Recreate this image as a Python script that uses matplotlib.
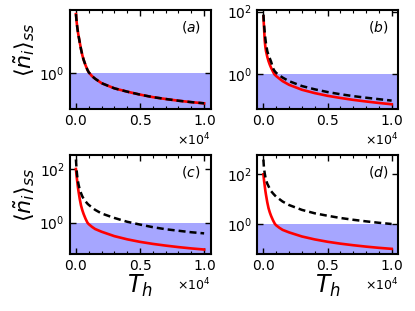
import matplotlib

matplotlib.use("Agg")

import matplotlib.pyplot as plt
from matplotlib.ticker import FixedLocator, MultipleLocator, NullLocator

# Hot-bath temperature samples
T_A = [0, 25, 50, 100, 150, 200, 300, 400, 500, 600, 750, 900, 1000, 1250, 1500,
       2000, 3000, 4000, 5000, 6000, 7000, 8000, 9000, 10000]
RED_A = [70, 55, 42, 28, 20, 15, 9, 5.5, 3.6, 2.6, 1.75, 1.25, 1.05, 0.8, 0.66,
         0.48, 0.33, 0.26, 0.21, 0.175, 0.153, 0.135, 0.122, 0.112]

T_B = [0, 25, 50, 100, 150, 200, 300, 400, 500, 600, 750, 850, 1000, 1250, 1500,
       2000, 3000, 4000, 5000, 6000, 7000, 8000, 9000, 10000]
RED_B = [70, 45, 30, 12, 7.5, 5.5, 3.6, 2.6, 2.0, 1.6, 1.2, 1.0, 0.87, 0.72, 0.6,
         0.46, 0.32, 0.25, 0.205, 0.175, 0.152, 0.135, 0.121, 0.11]
DASH_B = [80, 55, 38, 22, 14, 9.5, 5.5, 4.0, 3.2, 2.5, 1.55, 1.3, 1.1, 0.92, 0.78,
          0.6, 0.42, 0.33, 0.27, 0.23, 0.2, 0.178, 0.16, 0.144]

T_CD = [0, 25, 50, 100, 150, 200, 300, 400, 500, 600, 750, 900, 1000, 1250, 1500,
        2000, 3000, 4000, 5000, 6000, 7000, 8000, 9000, 10000]
RED_CD = [100, 75, 55, 35, 22, 15, 7.5, 4.3, 2.9, 2.1, 1.4, 1.0, 0.88, 0.7, 0.58,
          0.46, 0.315, 0.24, 0.193, 0.162, 0.14, 0.123, 0.11, 0.1]
DASH_C = [225, 150, 95, 55, 37, 27, 17, 12.5, 9.5, 7.8, 6.2, 5.1, 4.6, 3.7, 3.0,
          2.2, 1.5, 1.08, 0.85, 0.68, 0.57, 0.5, 0.44, 0.40]
DASH_D = [390, 240, 170, 110, 80, 60, 42, 33, 26, 21, 17, 14, 12.5, 10, 8,
          5.8, 3.7, 2.7, 2.15, 1.75, 1.48, 1.28, 1.12, 1.0]

PANELS = [
    ("(a)", T_A, RED_A, T_A, RED_A, (0.0743, 94.2)),
    ("(b)", T_B, RED_B, T_B, DASH_B, (0.0776, 112)),
    ("(c)", T_CD, RED_CD, T_CD, DASH_C, (0.0682, 331)),
    ("(d)", T_CD, RED_CD, T_CD, DASH_D, (0.0621, 598)),
]

RECTS = [
    [0.1675, 0.6495, 0.3398, 0.3183],
    [0.6193, 0.6495, 0.3398, 0.3183],
    [0.1675, 0.1833, 0.3398, 0.3183],
    [0.6193, 0.1833, 0.3398, 0.3183],
]

fig = plt.figure(figsize=(4.15, 3.11), dpi=100)

for i, ((tag, tr, red, td, dash, ylim), rect) in enumerate(zip(PANELS, RECTS)):
    ax = fig.add_axes(rect)
    ax.set_yscale("log")
    ax.axhspan(ylim[0], 1.0, color="blue", alpha=0.35, lw=0, zorder=0)
    ax.plot(tr, red, color="red", lw=1.9, zorder=2)
    ax.plot(td, dash, color="black", lw=1.8, ls=(0, (2.8, 1.6)), zorder=3)
    ax.set_xlim(-500, 10500)
    ax.set_ylim(*ylim)

    ax.yaxis.set_major_locator(FixedLocator([1.0, 100.0]))
    ax.yaxis.set_minor_locator(NullLocator())
    ax.xaxis.set_major_locator(MultipleLocator(5000))
    ax.xaxis.set_minor_locator(MultipleLocator(1000))
    ax.ticklabel_format(style="sci", axis="x", scilimits=(0, 0), useMathText=True)
    ax.xaxis.get_offset_text().set_fontsize(9)

    ax.tick_params(which="both", direction="in", top=True, right=True, labelsize=10)
    ax.tick_params(which="major", length=4, width=1.0)
    ax.tick_params(which="minor", length=2, width=0.8)
    for sp in ax.spines.values():
        sp.set_linewidth(1.5)

    ax.text(0.93, 0.83, f"${tag}$", transform=ax.transAxes, ha="right", va="center", fontsize=10)

    if i % 2 == 0:
        ax.set_ylabel(r"$\langle \tilde{n}_i \rangle_{ss}$", fontsize=16)
        ax.yaxis.set_label_coords(-0.23, 0.6)
    if i >= 2:
        ax.set_xlabel(r"$T_h$", fontsize=17, labelpad=0)

fig.savefig("out.png", dpi=100)
